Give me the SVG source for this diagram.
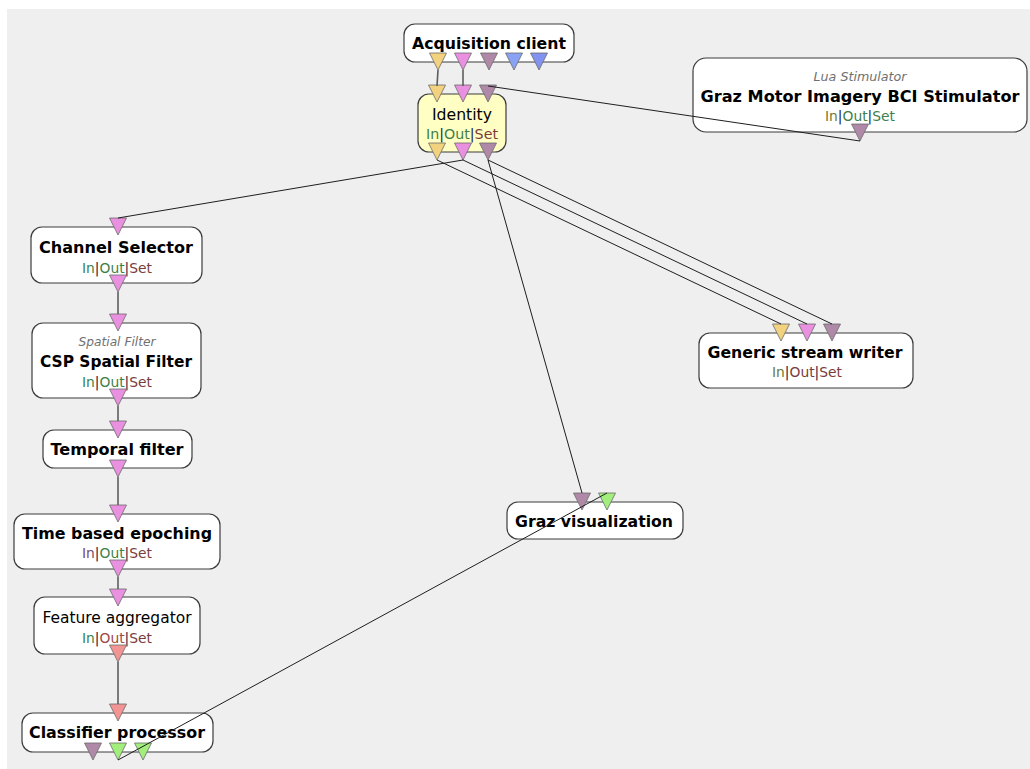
<svg xmlns="http://www.w3.org/2000/svg" xmlns:xlink="http://www.w3.org/1999/xlink" width="1030" height="769" viewBox="0 0 1030 769">
  <style>
    .box { fill: #ffffff; stroke: #3c3c3c; stroke-width: 1.2; }
    .box.hl { fill: #ffffc4; }
    .title { font-family: "DejaVu Sans", Verdana, sans-serif; font-size: 16.5px; font-weight: bold; fill: #000; text-anchor: middle; }
    .plain { font-family: "DejaVu Sans", Verdana, sans-serif; font-size: 16px; fill: #000; text-anchor: middle; }
    .kind { font-family: "DejaVu Sans", Verdana, sans-serif; font-size: 12.5px; font-style: italic; fill: #707070; text-anchor: middle; }
    .ios { font-family: "DejaVu Sans", Verdana, sans-serif; font-size: 14px; text-anchor: middle; fill: #1a1a40; }
    .g { fill: #3f7f4a; }
    .b { fill: #7a3c3c; }
    .o { fill: #6c7a34; }
    .m { fill: #7a4a6e; }
    .r { fill: #a04848; }
    .tri { stroke: #6a6a6a; stroke-width: 0.8; }
    .y { fill: #f2d27e; }
    .p { fill: #e990e0; }
    .v { fill: #b088a8; }
    .bl1 { fill: #8aa2f4; }
    .bl2 { fill: #8292f0; }
    .s { fill: #f29494; }
    .gr { fill: #a2ee7c; }
    .link { stroke: #1e1e1e; stroke-width: 1; fill: none; }
    .chain { stroke: #5e5e5e; stroke-width: 1.6; fill: none; }
  </style>
  <defs>
    <polygon id="pin" points="-8.5,0 8.5,0 0,17"/>
  </defs>

  <!-- canvas -->
  <rect x="0" y="0" width="1030" height="769" fill="#ffffff"/>
  <rect x="7" y="9" width="1023" height="760" fill="#efefef"/>

  <!-- Acquisition client -->
  <g id="acquisition-client">
    <rect class="box" x="404" y="24" width="170" height="38" rx="11"/>
    <text class="title" x="489" y="49" textLength="154" lengthAdjust="spacingAndGlyphs">Acquisition client</text>
    <use href="#pin" class="tri y" x="438" y="53"/>
    <use href="#pin" class="tri p" x="463" y="53"/>
    <use href="#pin" class="tri v" x="489" y="53"/>
    <use href="#pin" class="tri bl1" x="514" y="53"/>
    <use href="#pin" class="tri bl2" x="539" y="53"/>
  </g>

  <!-- Identity -->
  <g id="identity">
    <rect class="box hl" x="418" y="94" width="88" height="58" rx="11"/>
    <text class="plain" x="462" y="120" textLength="60" lengthAdjust="spacingAndGlyphs">Identity</text>
    <text class="ios" x="462" y="139" textLength="72" lengthAdjust="spacingAndGlyphs"><tspan class="g">In</tspan>|<tspan class="g">Out</tspan>|<tspan class="b">Set</tspan></text>
    <use href="#pin" class="tri y" x="437" y="85"/>
    <use href="#pin" class="tri p" x="463" y="85"/>
    <use href="#pin" class="tri v" x="488" y="85"/>
    <use href="#pin" class="tri y" x="437" y="143"/>
    <use href="#pin" class="tri p" x="463" y="143"/>
    <use href="#pin" class="tri v" x="488" y="143"/>
  </g>

  <!-- Graz Motor Imagery BCI Stimulator -->
  <g id="graz-stimulator">
    <rect class="box" x="693" y="58" width="334" height="74" rx="13"/>
    <text class="kind" x="860" y="81" textLength="93" lengthAdjust="spacingAndGlyphs">Lua Stimulator</text>
    <text class="title" x="860" y="102" textLength="319" lengthAdjust="spacingAndGlyphs">Graz Motor Imagery BCI Stimulator</text>
    <text class="ios" x="860" y="121" textLength="70" lengthAdjust="spacingAndGlyphs"><tspan class="o">In</tspan>|<tspan class="g">Out</tspan>|<tspan class="g">Set</tspan></text>
    <use href="#pin" class="tri v" x="860" y="124"/>
  </g>

  <!-- Channel Selector -->
  <g id="channel-selector">
    <rect class="box" x="31" y="227" width="171" height="56" rx="11"/>
    <text class="title" x="116" y="253" textLength="154" lengthAdjust="spacingAndGlyphs">Channel Selector</text>
    <text class="ios" x="117" y="273" textLength="70" lengthAdjust="spacingAndGlyphs"><tspan class="g">In</tspan>|<tspan class="g">Out</tspan>|<tspan class="b">Set</tspan></text>
    <use href="#pin" class="tri p" x="118" y="218"/>
    <use href="#pin" class="tri p" x="118" y="275"/>
  </g>

  <!-- CSP Spatial Filter -->
  <g id="csp-spatial-filter">
    <rect class="box" x="32" y="323" width="169" height="75" rx="11"/>
    <text class="kind" x="117" y="346" textLength="77" lengthAdjust="spacingAndGlyphs">Spatial Filter</text>
    <text class="title" x="116" y="367" textLength="152" lengthAdjust="spacingAndGlyphs">CSP Spatial Filter</text>
    <text class="ios" x="117" y="387" textLength="70" lengthAdjust="spacingAndGlyphs"><tspan class="g">In</tspan>|<tspan class="g">Out</tspan>|<tspan class="b">Set</tspan></text>
    <use href="#pin" class="tri p" x="118" y="314"/>
    <use href="#pin" class="tri p" x="118" y="389"/>
  </g>

  <!-- Temporal filter -->
  <g id="temporal-filter">
    <rect class="box" x="43" y="430" width="149" height="38" rx="11"/>
    <text class="title" x="117" y="455" textLength="133" lengthAdjust="spacingAndGlyphs">Temporal filter</text>
    <use href="#pin" class="tri p" x="118" y="421"/>
    <use href="#pin" class="tri p" x="118" y="460"/>
  </g>

  <!-- Time based epoching -->
  <g id="time-based-epoching">
    <rect class="box" x="14" y="514" width="206" height="55" rx="11"/>
    <text class="title" x="117" y="539" textLength="190" lengthAdjust="spacingAndGlyphs">Time based epoching</text>
    <text class="ios" x="117" y="558" textLength="70" lengthAdjust="spacingAndGlyphs"><tspan class="m">In</tspan>|<tspan class="g">Out</tspan>|<tspan class="b">Set</tspan></text>
    <use href="#pin" class="tri p" x="118" y="505"/>
    <use href="#pin" class="tri p" x="118" y="560"/>
  </g>

  <!-- Feature aggregator -->
  <g id="feature-aggregator">
    <rect class="box" x="34" y="597" width="166" height="57" rx="11"/>
    <text class="plain" x="117" y="623" textLength="149" lengthAdjust="spacingAndGlyphs">Feature aggregator</text>
    <text class="ios" x="117" y="643" textLength="70" lengthAdjust="spacingAndGlyphs"><tspan class="g">In</tspan>|<tspan class="r">Out</tspan>|<tspan class="b">Set</tspan></text>
    <use href="#pin" class="tri p" x="118" y="589"/>
    <use href="#pin" class="tri s" x="118" y="645"/>
  </g>

  <!-- Classifier processor -->
  <g id="classifier-processor">
    <rect class="box" x="22" y="713" width="191" height="39" rx="11"/>
    <text class="title" x="117" y="738" textLength="176" lengthAdjust="spacingAndGlyphs">Classifier processor</text>
    <use href="#pin" class="tri s" x="118" y="704"/>
    <use href="#pin" class="tri v" x="93" y="743"/>
    <use href="#pin" class="tri gr" x="118" y="743"/>
    <use href="#pin" class="tri gr" x="143" y="743"/>
  </g>

  <!-- Graz visualization -->
  <g id="graz-visualization">
    <rect class="box" x="507" y="502" width="176" height="37" rx="11"/>
    <text class="title" x="594" y="527" textLength="158" lengthAdjust="spacingAndGlyphs">Graz visualization</text>
    <use href="#pin" class="tri v" x="582" y="493"/>
    <use href="#pin" class="tri gr" x="607" y="493"/>
  </g>

  <!-- Generic stream writer -->
  <g id="generic-stream-writer">
    <rect class="box" x="699" y="333" width="214" height="55" rx="11"/>
    <text class="title" x="805" y="358" textLength="195" lengthAdjust="spacingAndGlyphs">Generic stream writer</text>
    <text class="ios" x="807" y="377" textLength="70" lengthAdjust="spacingAndGlyphs"><tspan class="o">In</tspan>|<tspan class="b">Out</tspan>|<tspan class="b">Set</tspan></text>
    <use href="#pin" class="tri y" x="781" y="324"/>
    <use href="#pin" class="tri p" x="807" y="324"/>
    <use href="#pin" class="tri v" x="832" y="324"/>
  </g>

  <!-- connectors -->
  <g id="connectors">
    <line class="chain" x1="438" y1="70" x2="437" y2="86"/>
    <line class="chain" x1="463" y1="70" x2="463" y2="86"/>
    <line class="link" x1="488" y1="86" x2="860" y2="141"/>
    <line class="link" x1="463" y1="160" x2="118" y2="218"/>
    <line class="link" x1="437" y1="160" x2="781" y2="324"/>
    <line class="link" x1="463" y1="160" x2="807" y2="324"/>
    <line class="link" x1="488" y1="160" x2="832" y2="324"/>
    <line class="link" x1="488" y1="160" x2="582" y2="493"/>
    <line class="link" x1="118" y1="760" x2="607" y2="493"/>
    <line class="chain" x1="118" y1="292" x2="118" y2="314"/>
    <line class="chain" x1="118" y1="406" x2="118" y2="421"/>
    <line class="chain" x1="118" y1="477" x2="118" y2="505"/>
    <line class="chain" x1="118" y1="577" x2="118" y2="589"/>
    <line class="chain" x1="118" y1="662" x2="118" y2="704"/>
  </g>
</svg>
